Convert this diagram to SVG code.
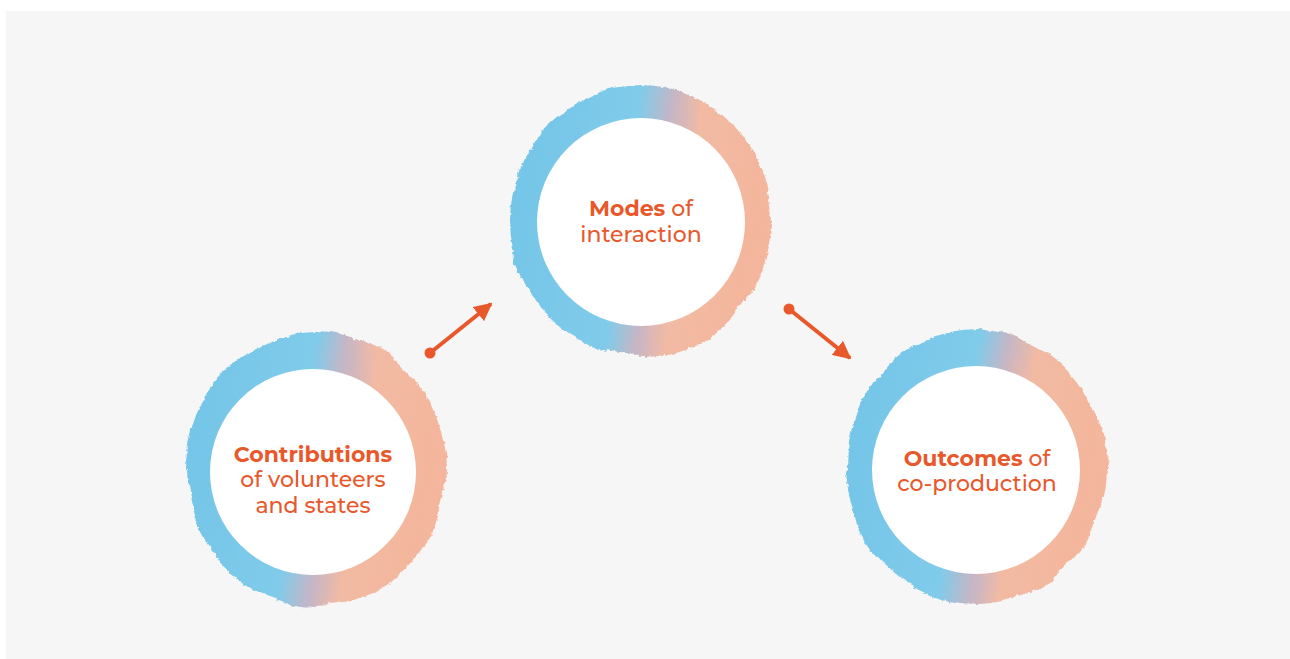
<svg xmlns="http://www.w3.org/2000/svg" width="1290" height="659" viewBox="0 0 1290 659">
<defs>
<style>
.bg{fill:#f6f6f6}
.inner{fill:#ffffff}
.ring{fill:url(#ringGrad);filter:url(#brush)}
.lbl{font-family:"Montserrat","Open Sans","Liberation Sans",sans-serif;font-size:22px;font-weight:500;fill:#e8582b;text-anchor:middle}
.b{font-weight:700}
.conn{stroke:#e8582b;stroke-width:4;fill:none}
.dot{fill:#e8582b}
</style>
<linearGradient id="ringGrad" x1="0" y1="0.42" x2="1" y2="0.58">
<stop offset="0" stop-color="#74c5e8"/>
<stop offset="0.43" stop-color="#80cbea"/>
<stop offset="0.55" stop-color="#c4b6c6"/>
<stop offset="0.66" stop-color="#f2baa3"/>
<stop offset="1" stop-color="#f4b59b"/>
</linearGradient>
<filter id="brush" x="-10%" y="-10%" width="120%" height="120%">
<feTurbulence type="fractalNoise" baseFrequency="0.025" numOctaves="2" seed="3" result="n1"/>
<feTurbulence type="fractalNoise" baseFrequency="0.25" numOctaves="2" seed="7" result="n2"/>
<feDisplacementMap in="SourceGraphic" in2="n1" scale="9" xChannelSelector="R" yChannelSelector="G" result="d1"/>
<feDisplacementMap in="d1" in2="n2" scale="3" xChannelSelector="R" yChannelSelector="G" result="d2"/>
<feGaussianBlur in="d2" stdDeviation="0.6"/>
</filter>
<marker id="arrow" viewBox="0 0 10 10" refX="9" refY="5" markerWidth="4.5" markerHeight="4.5" orient="auto" markerUnits="strokeWidth">
<path d="M0,0 L10,5 L0,10 Z" fill="#e8582b"/>
</marker>
</defs>
<rect class="bg" x="6" y="11" width="1284" height="648"/>
<g id="connectors">
<line class="conn" x1="430" y1="353" x2="491" y2="304" marker-end="url(#arrow)"/>
<circle class="dot" cx="430" cy="353" r="5.5"/>
<line class="conn" x1="789" y1="309" x2="850" y2="358" marker-end="url(#arrow)"/>
<circle class="dot" cx="789" cy="309" r="5.5"/>
</g>
<g id="node-modes">
<ellipse class="ring" cx="641" cy="221" rx="131" ry="135"/>
<circle class="inner" cx="641" cy="222" r="104"/>
<text class="lbl" x="641" y="216"><tspan class="b">Modes</tspan> of</text>
<text class="lbl" x="641" y="242">interaction</text>
</g>
<g id="node-contributions">
<ellipse class="ring" cx="316" cy="469" rx="130" ry="137"/>
<circle class="inner" cx="313" cy="472" r="103"/>
<text class="lbl b" x="313" y="462">Contributions</text>
<text class="lbl" x="313" y="487">of volunteers</text>
<text class="lbl" x="313" y="513">and states</text>
</g>
<g id="node-outcomes">
<ellipse class="ring" cx="976" cy="467" rx="130" ry="137"/>
<circle class="inner" cx="976" cy="470" r="104"/>
<text class="lbl" x="977" y="466"><tspan class="b">Outcomes</tspan> of</text>
<text class="lbl" x="977" y="491">co-production</text>
</g>
</svg>
